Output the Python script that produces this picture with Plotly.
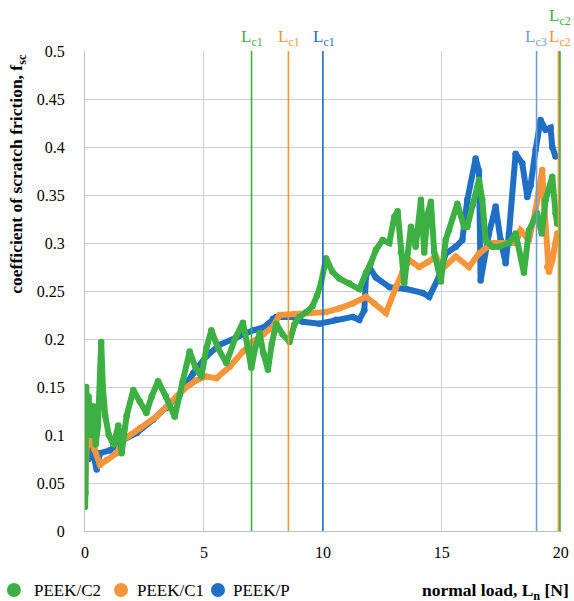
import plotly.graph_objects as go

# ---- data ----
c2_x = [0.0, 0.02, 0.05, 0.1, 0.15, 0.25, 0.35, 0.45, 0.55, 0.68, 0.75, 0.85, 1.0, 1.2, 1.4, 1.54,
        1.75, 2.03, 2.3, 2.58, 2.8, 3.07, 3.4, 3.77, 4.1, 4.4, 4.65, 4.89, 5.1, 5.31, 5.6, 5.94,
        6.3, 6.64, 6.85, 6.99, 7.15, 7.34, 7.5, 7.69, 7.85, 8.04, 8.3, 8.6, 8.8, 9.01, 9.3, 9.56,
        9.75, 9.92, 10.13, 10.4, 10.69, 11.11, 11.53, 11.81, 12.0, 12.23, 12.51, 12.79, 13.0,
        13.14, 13.28, 13.42, 13.7, 13.9, 14.12, 14.26, 14.4, 14.54, 14.68, 14.88, 14.96, 15.16,
        15.3, 15.65, 15.93, 16.07, 16.3, 16.56, 16.7, 16.84, 17.12, 17.4, 17.82, 18.1, 18.45,
        18.66, 19.0, 19.2, 19.36, 19.64, 19.78, 19.85]
c2_y = [0.025, 0.04, 0.15, 0.12, 0.14, 0.10, 0.13, 0.09, 0.11, 0.197, 0.15, 0.12, 0.10, 0.09,
        0.11, 0.081, 0.12, 0.147, 0.135, 0.123, 0.14, 0.156, 0.14, 0.119, 0.155, 0.187, 0.17,
        0.161, 0.19, 0.209, 0.19, 0.175, 0.20, 0.217, 0.19, 0.17, 0.19, 0.206, 0.185, 0.168,
        0.195, 0.216, 0.205, 0.197, 0.215, 0.223, 0.228, 0.234, 0.245, 0.258, 0.284, 0.27,
        0.263, 0.258, 0.252, 0.269, 0.278, 0.293, 0.303, 0.30, 0.327, 0.333, 0.29, 0.258,
        0.317, 0.296, 0.345, 0.29, 0.33, 0.343, 0.29, 0.272, 0.26, 0.303, 0.313, 0.341, 0.317,
        0.317, 0.34, 0.366, 0.345, 0.303, 0.296, 0.296, 0.30, 0.31, 0.269, 0.313, 0.331, 0.31,
        0.345, 0.369, 0.331, 0.32]

c1_x = [0.0, 0.1, 0.21, 0.4, 0.63, 0.91, 1.33, 1.61, 2.31, 3.0, 3.56, 4.12, 4.68, 5.1, 5.52,
        6.08, 6.64, 7.06, 7.5, 7.9, 8.18, 8.8, 9.43, 10.13, 10.69, 11.25, 11.81, 12.16, 12.65,
        13.07, 13.35, 13.63, 14.05, 14.4, 14.75, 15.02, 15.58, 16.14, 16.56, 17.12, 17.68, 18.1,
        18.31, 18.66, 18.94, 19.22, 19.3, 19.43, 19.5, 19.64, 19.78, 19.85]
c1_y = [0.04, 0.11, 0.095, 0.085, 0.069, 0.074, 0.081, 0.095, 0.107, 0.119, 0.133, 0.147,
        0.157, 0.161, 0.159, 0.171, 0.187, 0.197, 0.205, 0.213, 0.225, 0.226, 0.227, 0.228,
        0.232, 0.237, 0.244, 0.237, 0.227, 0.254, 0.27, 0.282, 0.275, 0.28, 0.286, 0.273,
        0.286, 0.275, 0.289, 0.30, 0.30, 0.30, 0.313, 0.303, 0.334, 0.376, 0.34, 0.275, 0.27,
        0.282, 0.30, 0.31]

p_x = [0.0, 0.15, 0.3, 0.49, 0.63, 1.05, 1.61, 2.17, 2.86, 3.42, 3.98, 4.54, 5.1, 5.66, 6.36,
       7.06, 7.5, 7.9, 8.04, 8.73, 9.15, 9.85, 10.55, 11.25, 11.53, 11.74, 11.81, 11.95, 12.23,
       12.8, 13.5, 14.19, 14.47, 14.88, 15.16, 15.58, 15.86, 16.07, 16.42, 16.56,
       16.63, 16.98, 17.26, 17.47, 17.68, 17.82, 18.1, 18.38, 18.59, 18.73, 18.94, 19.15,
       19.36, 19.57, 19.64, 19.78]
p_y = [0.08, 0.075, 0.085, 0.064, 0.081, 0.084, 0.095, 0.102, 0.116, 0.128, 0.142, 0.164,
       0.182, 0.194, 0.202, 0.209, 0.212, 0.221, 0.223, 0.223, 0.218, 0.216, 0.22, 0.223,
       0.22, 0.23, 0.265, 0.275, 0.264, 0.254, 0.252, 0.248, 0.244, 0.265, 0.289, 0.296,
       0.303, 0.345, 0.388, 0.375, 0.261, 0.31, 0.338, 0.303, 0.279, 0.31, 0.393, 0.383,
       0.348, 0.36, 0.397, 0.428, 0.418, 0.42, 0.40, 0.39]

names = ["PEEK/C2", "PEEK/C1", "PEEK/P"]
crit_x = [7.0, 8.55, 10.0, 18.98, 19.9, 19.96]
crit_labels = ["L<sub>c1</sub>", "L<sub>c1</sub>", "L<sub>c1</sub>", "L<sub>c3</sub>", "L<sub>c2</sub>", "L<sub>c2</sub>"]
x_ticks = [0, 5, 10, 15, 20]
y_ticks = [0, 0.05, 0.1, 0.15, 0.2, 0.25, 0.3, 0.35, 0.4, 0.45, 0.5]

GREEN = "#3DB043"
ORANGE = "#F7953A"
BLUE = "#1F6FC5"
LBLUE = "#6A9FD8"
crit_col = [GREEN, ORANGE, BLUE, LBLUE, ORANGE, GREEN]
series_col = [GREEN, ORANGE, BLUE]

SERIF = "Liberation Serif, Times New Roman, DejaVu Serif, serif"

fig = go.Figure()

# draw order: blue, orange, green on top
for xs, ys, col in [(p_x, p_y, BLUE), (c1_x, c1_y, ORANGE), (c2_x, c2_y, GREEN)]:
    fig.add_trace(go.Scatter(x=xs, y=ys, mode="lines+markers",
                             line=dict(color=col, width=6),
                             marker=dict(color=col, size=6.5),
                             showlegend=False, hoverinfo="skip"))

# critical load lines
for xv, col in zip(crit_x, crit_col):
    fig.add_shape(type="line", x0=xv, x1=xv, y0=0, y1=1, xref="x", yref="paper",
                  line=dict(color=col, width=1.6))

# labels for critical loads (x in paper fraction, y in paper fraction)
lab_pos = [(0.351, 1.027, "center"), (0.428, 1.027, "center"), (0.501, 1.027, "center"),
           (0.972, 1.027, "right"), (1.024, 1.027, "right"), (1.024, 1.071, "right")]
for (xv, yv, al), txt, col in zip(lab_pos, crit_labels, crit_col):
    fig.add_annotation(x=xv, y=yv, xref="paper", yref="paper", text=txt, showarrow=False,
                       font=dict(family=SERIF, size=17, color=col), xanchor=al,
                       yanchor="middle")

# legend (circle marker + label) at the bottom-left
leg_marker_x = [-0.149, 0.0755, 0.2788]
leg_text_x = [-0.112, 0.104, 0.307]
leg_y = -0.123
for mx, tx, nm, col in zip(leg_marker_x, leg_text_x, names, series_col):
    fig.add_shape(type="circle", xref="paper", yref="paper",
                  xsizemode="pixel", ysizemode="pixel", xanchor=mx, yanchor=leg_y,
                  x0=-7, x1=7, y0=-7, y1=7, fillcolor=col, line=dict(width=0))
    fig.add_annotation(x=tx, y=leg_y, xref="paper", yref="paper", text=nm,
                       showarrow=False, font=dict(family=SERIF, size=17, color="black"),
                       xanchor="left", yanchor="middle")

fig.add_annotation(x=-0.142, y=0.745, xref="paper", yref="paper",
                   text="<b>coefficient of scratch friction, f<sub>sc</sub></b>",
                   textangle=-90, showarrow=False,
                   font=dict(family=SERIF, size=17.5, color="black"),
                   xanchor="center", yanchor="middle")
fig.add_annotation(x=0.702, y=-0.126, xref="paper", yref="paper",
                   text="<b>normal load, L<sub>n</sub> [N]</b>", showarrow=False,
                   font=dict(family=SERIF, size=17.5, color="black"),
                   xanchor="left", yanchor="middle")

tickfont = dict(family=SERIF, size=16, color="black")
fig.update_layout(
    width=574, height=601,
    margin=dict(l=85, r=12, t=51, b=70, autoexpand=False),
    plot_bgcolor="white", paper_bgcolor="white",
    font=dict(family=SERIF, size=17, color="black"),
    showlegend=False,
    xaxis=dict(range=[0, 20.05], tickvals=x_ticks, showgrid=True, gridcolor="#D0D0D0",
               gridwidth=1.2, zeroline=False, showline=True, linecolor="#BFBFBF",
               linewidth=1.2, ticks="", ticklabelstandoff=7, fixedrange=True,
               automargin=False, tickfont=tickfont),
    yaxis=dict(range=[0, 0.5], tickvals=y_ticks,
               ticktext=[("%g" % v) for v in y_ticks], showgrid=True,
               gridcolor="#D0D0D0", gridwidth=1.2, zeroline=False, showline=True,
               linecolor="#BFBFBF", linewidth=1.2, ticks="", ticklabelstandoff=16,
               fixedrange=True, automargin=False, tickfont=tickfont),
)

fig.write_html("out.html", config={"displayModeBar": False},
               post_script="document.body.style.margin='0';document.body.style.overflow='hidden';")
